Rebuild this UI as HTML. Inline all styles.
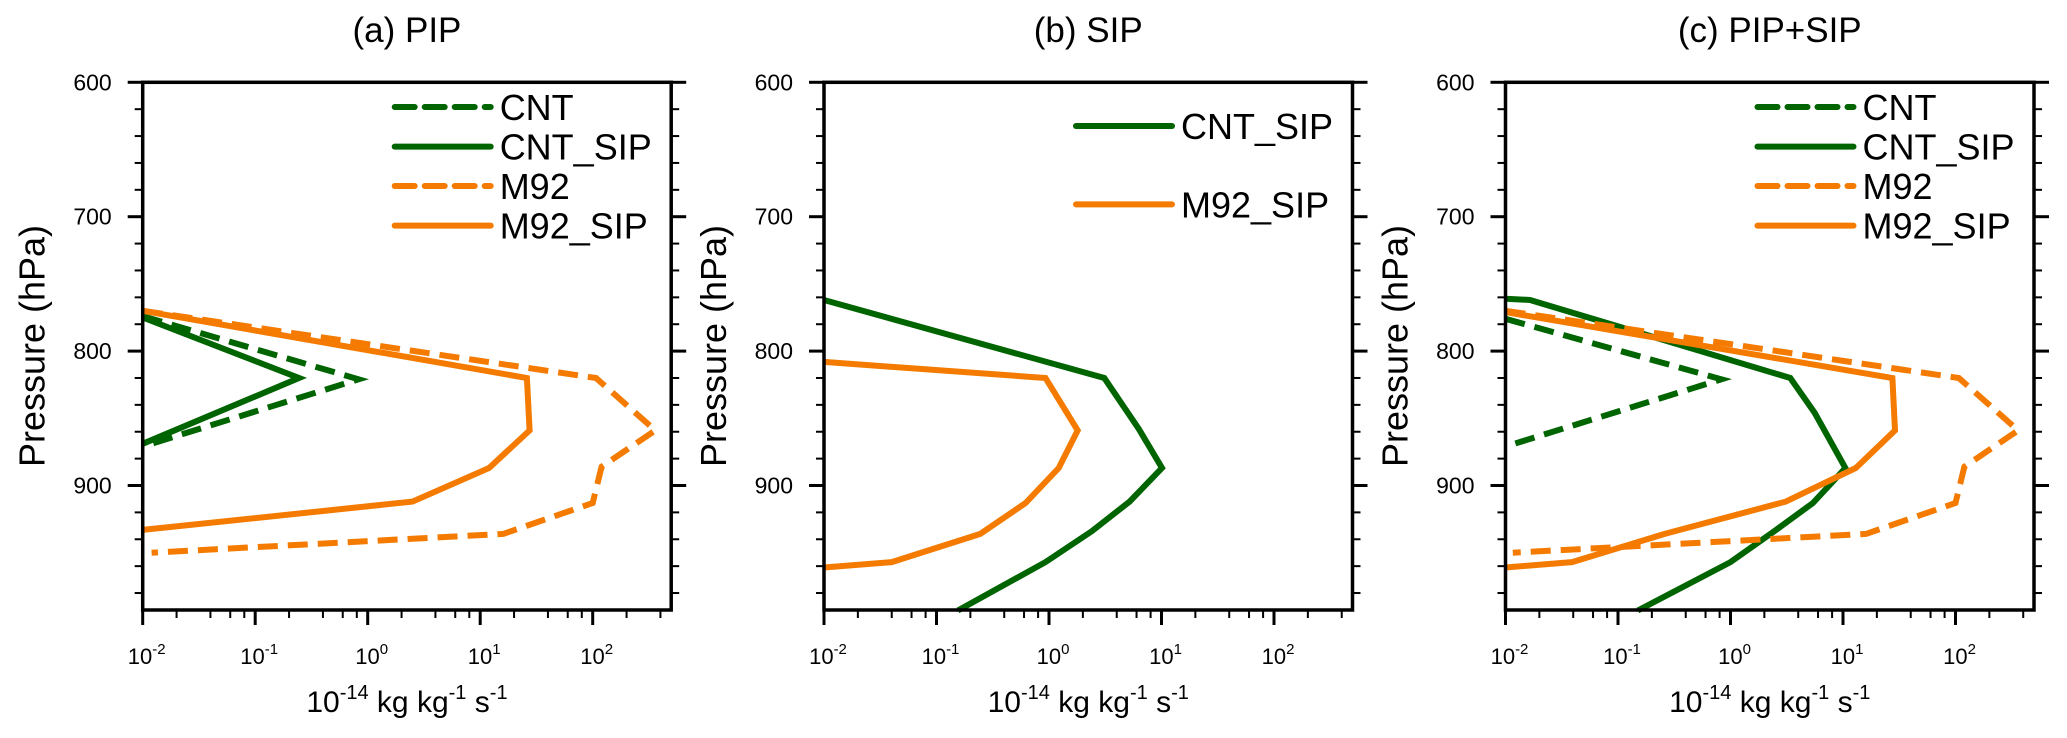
<!DOCTYPE html>
<html><head><meta charset="utf-8"><style>
html,body{margin:0;padding:0;background:#fff;}
svg{display:block;font-family:"Liberation Sans",Arial,sans-serif;}
</style></head><body>
<svg id="chart" width="2067" height="738" viewBox="0 0 2067 738" xmlns="http://www.w3.org/2000/svg"></svg>
<script>
// ---- data ----
const panelTitles = ["(a) PIP", "(b) SIP", "(c) PIP+SIP"];
const yTicks = [600, 700, 800, 900];
const xTickExps = [-2, -1, 0, 1, 2];

// Panel (a)
const a_cnt_p = [774, 821, 871];
const a_cnt_v = [0.01, 0.83, 0.01];
const a_cntsip_p = [775, 820, 869];
const a_cntsip_v = [0.01, 0.245, 0.01];
const a_m92_p = [770, 820, 859, 886, 913, 936, 950];
const a_m92_v = [0.01, 107, 360, 120, 100, 16, 0.012];
const a_m92sip_p = [770, 820, 859, 887, 912, 933];
const a_m92sip_v = [0.01, 26, 27.5, 12, 2.5, 0.01];

// Panel (b)
const b_cntsip_p = [762, 820, 858, 887, 912, 934, 957, 993];
const b_cntsip_v = [0.01, 3.1, 6.3, 10.1, 5.2, 2.4, 0.93, 0.155];
const b_m92sip_p = [808, 820, 859, 887, 913, 936, 957, 961];
const b_m92sip_v = [0.01, 0.93, 1.8, 1.22, 0.62, 0.245, 0.04, 0.01];

// Panel (c)
const c_cnt_p = [776, 821, 871];
const c_cnt_v = [0.01, 0.83, 0.01];
const c_cntsip_p = [761, 762, 820, 846, 887, 913, 934, 957, 993];
const c_cntsip_v = [0.01, 0.0165, 3.4, 5.6, 10.5, 5.4, 2.45, 1.0, 0.15];
const c_m92_p = [770, 820, 859, 886, 913, 936, 950];
const c_m92_v = [0.01, 107, 360, 120, 100, 16, 0.0116];
const c_m92sip_p = [771, 820, 859, 887, 912, 936, 957, 961];
const c_m92sip_v = [0.01, 27.5, 29, 13, 3.1, 0.26, 0.039, 0.01];

const GREEN = "#006400", ORANGE = "#f47b00";
const panels = [
  {left:142.7, series:[
    {name:"CNT", p:a_cnt_p, v:a_cnt_v, c:GREEN, dash:true},
    {name:"CNT_SIP", p:a_cntsip_p, v:a_cntsip_v, c:GREEN, dash:false},
    {name:"M92", p:a_m92_p, v:a_m92_v, c:ORANGE, dash:true},
    {name:"M92_SIP", p:a_m92sip_p, v:a_m92sip_v, c:ORANGE, dash:false}], legendRows:[107,146.6,186,225.6]},
  {left:824, series:[
    {name:"CNT_SIP", p:b_cntsip_p, v:b_cntsip_v, c:GREEN, dash:false},
    {name:"M92_SIP", p:b_m92sip_p, v:b_m92sip_v, c:ORANGE, dash:false}], legendRows:[126,204.4]},
  {left:1505.5, series:[
    {name:"CNT", p:c_cnt_p, v:c_cnt_v, c:GREEN, dash:true},
    {name:"CNT_SIP", p:c_cntsip_p, v:c_cntsip_v, c:GREEN, dash:false},
    {name:"M92", p:c_m92_p, v:c_m92_v, c:ORANGE, dash:true},
    {name:"M92_SIP", p:c_m92sip_p, v:c_m92sip_v, c:ORANGE, dash:false}], legendRows:[107,146.6,186,225.6]}
];

const NS = "http://www.w3.org/2000/svg";
const svg = document.getElementById("chart");
const TOP = 82.3, BOT = 610, W = 528.5, DEC = 112.5, PPX = 1.344;
function yScale(p){ return TOP + (p - 600) * PPX; }
function mk(tag, attrs, parent){
  const e = document.createElementNS(NS, tag);
  for (const k in attrs) e.setAttribute(k, attrs[k]);
  (parent || svg).appendChild(e);
  return e;
}

panels.forEach((pn, i) => {
  const L = pn.left, R = L + W;
  const xScale = v => L + (Math.log10(v) + 2) * DEC;
  const g = mk("g", {});
  
  

  const t = mk("text", {x:L + W/2, y:42, "font-size":35, "text-anchor":"middle", fill:"#000"}, g);
  t.textContent = panelTitles[i];
  
  

  const sg = mk("g", {}, g);
  
  
  pn.series.forEach(s => {
    const pts = s.p.map((p, k) => xScale(s.v[k]).toFixed(1) + "," + yScale(p).toFixed(1)).join(" ");
    const pl = mk("polyline", {points:pts, fill:"none", stroke:s.c, "stroke-width":6, "stroke-linejoin":"miter", "stroke-dasharray": s.dash ? "20 10" : "none"}, sg);
    
    
  });

  const fr = mk("rect", {x:L, y:TOP, width:W, height:BOT-TOP, fill:"none", stroke:"#000", "stroke-width":3.5}, g);
  
  

  for (let p = 600; p <= 980; p += 20) {
    const y = yScale(p), major = p % 100 === 0, len = major ? 15 : 8;
    const tl = mk("line", {x1:L-len, y1:y, x2:L, y2:y, stroke:"#000", "stroke-width": major ? 3 : 2}, g);
    
    
    const tr = mk("line", {x1:R, y1:y, x2:R+len, y2:y, stroke:"#000", "stroke-width": major ? 3 : 2}, g);
    
    
  }
  yTicks.forEach(p => {
    const tx = mk("text", {x:L-31, y:yScale(p)+8, "font-size":23, "text-anchor":"end", fill:"#000"}, g);
    tx.textContent = p;
    
    
  });

  xTickExps.forEach(e => {
    const x = xScale(Math.pow(10, e));
    const tk = mk("line", {x1:x, y1:BOT, x2:x, y2:BOT+15, stroke:"#000", "stroke-width":3}, g);
    
    
    [2,4,6,8].forEach(m => {
      const xv = m * Math.pow(10, e);
      if (Math.log10(xv) > 2.699) return;
      const mx = xScale(xv);
      const mt = mk("line", {x1:mx, y1:BOT, x2:mx, y2:BOT+8, stroke:"#000", "stroke-width":2}, g);
      
      
    });
    const lb = mk("text", {x:x+4, y:664, "font-size":22, "text-anchor":"middle", fill:"#000"}, g);
    
    
    const t1 = mk("tspan", {}, lb); t1.textContent = "10";
    const t2 = mk("tspan", {dy:-10, "font-size":15}, lb); t2.textContent = String(e);
  });

  const xt = mk("text", {x:L + W/2, y:712, "font-size":30, "text-anchor":"middle", fill:"#000"}, g);
  
  
  [["10",0,30],["-14",-13,20],[" kg kg",13,30],["-1",-13,20],[" s",13,30],["-1",-13,20]].forEach(([s,dy,fs]) => {
    const ts = mk("tspan", {dy:dy, "font-size":fs}, xt); ts.textContent = s;
  });

  const cx = L - 111, cy = 346;
  const yt = mk("text", {x:cx, y:cy, "font-size":36, "text-anchor":"middle", fill:"#000", transform:`rotate(-90 ${cx} ${cy})`, dy:13}, g);
  yt.textContent = "Pressure (hPa)";
  
  

  const lg = mk("g", {}, g);
  
  
  pn.series.forEach((s, k) => {
    const y = pn.legendRows[k];
    const ll = mk("line", {x1:L+252, y1:y, x2:L+348, y2:y, stroke:s.c, "stroke-width":6, "stroke-dasharray": s.dash ? "20 10" : "none", "stroke-linecap":"round"}, lg);
    
    
    const lt = mk("text", {x:L+357, y:y+13, "font-size":36, fill:"#000"}, lg);
    lt.textContent = s.name;
    
    
  });
});
</script>
</body></html>
